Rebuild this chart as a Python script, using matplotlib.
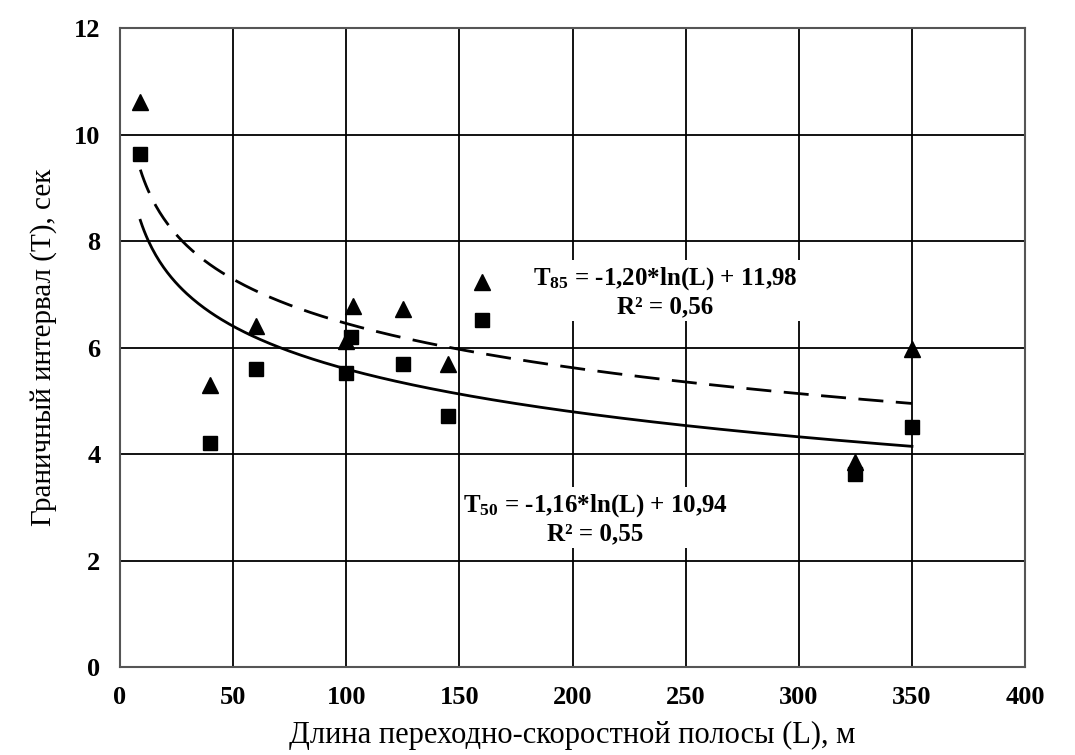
import numpy as np
import matplotlib
matplotlib.use("Agg")
import matplotlib.pyplot as plt

plt.rcParams['font.family'] = ['Liberation Serif', 'DejaVu Serif']
plt.rcParams['mathtext.fontset'] = 'custom'
plt.rcParams['mathtext.rm'] = 'Liberation Serif:bold'
plt.rcParams['mathtext.it'] = 'Liberation Serif:bold'
plt.rcParams['mathtext.bf'] = 'Liberation Serif:bold'

# Data
L_tri = [9, 40, 60, 100, 103, 125, 145, 160, 325, 350]
T85_vals = [10.62, 5.3, 6.4, 6.12, 6.78, 6.72, 5.7, 7.24, 3.86, 5.98]
L_sq = [9, 40, 60, 100, 102, 125, 145, 160, 325, 350]
T50_vals = [9.63, 4.2, 5.6, 5.52, 6.2, 5.7, 4.72, 6.52, 3.62, 4.5]

fit85 = (-1.20, 11.98)
fit50 = (-1.16, 10.94)
fit_range = (9, 350)

xticks = [0, 50, 100, 150, 200, 250, 300, 350, 400]
yticks = [0, 2, 4, 6, 8, 10, 12]

eq85 = 'T$_{85}$ = -1,20*ln(L) + 11,98\nR² = 0,56'
eq50 = 'T$_{50}$ = -1,16*ln(L) + 10,94\nR² = 0,55'

fig = plt.figure(figsize=(10.75, 7.55), dpi=100)
ax = fig.add_axes([0.1116, 0.1166, 0.842, 0.846])

Lfit = np.linspace(fit_range[0], fit_range[1], 400)
ax.plot(Lfit, fit85[0] * np.log(Lfit) + fit85[1], color='black', lw=2.0,
        linestyle=(0, (9, 4.5)), zorder=3)
ax.plot(Lfit, fit50[0] * np.log(Lfit) + fit50[1], color='black', lw=2.0, zorder=3)

ax.plot(L_tri, T85_vals, linestyle='none', marker='^', color='black', markersize=12, zorder=4)
ax.plot(L_sq, T50_vals, linestyle='none', marker='s', color='black', markersize=9.5, zorder=4)

ax.set_xlim(0, 400)
ax.set_ylim(0, 12)
ax.set_xticks(xticks)
ax.set_yticks(yticks)
ax.grid(True, color='black', lw=1.3)
ax.set_axisbelow(True)
for s in ax.spines.values():
    s.set_color('#555555')
    s.set_linewidth(1.5)
ax.tick_params(length=0, labelsize=19, pad=14)
for lab in ax.get_xticklabels() + ax.get_yticklabels():
    lab.set_fontweight('bold')

ax.set_xlabel('Длина переходно-скоростной полосы (L), м', fontsize=22, labelpad=8)
ax.set_ylabel('Граничный интервал (T), сек', fontsize=21, labelpad=12)

ax.text(241, 7.05, eq85, ha='center', va='center', fontsize=18, fontweight='bold',
        linespacing=1.2, zorder=2.5,
        bbox=dict(facecolor='white', edgecolor='none', pad=2))
ax.text(210, 2.78, eq50, ha='center', va='center', fontsize=18, fontweight='bold',
        linespacing=1.2, zorder=2.5,
        bbox=dict(facecolor='white', edgecolor='none', pad=2))

fig.savefig('out.png', dpi=100, facecolor='white')
